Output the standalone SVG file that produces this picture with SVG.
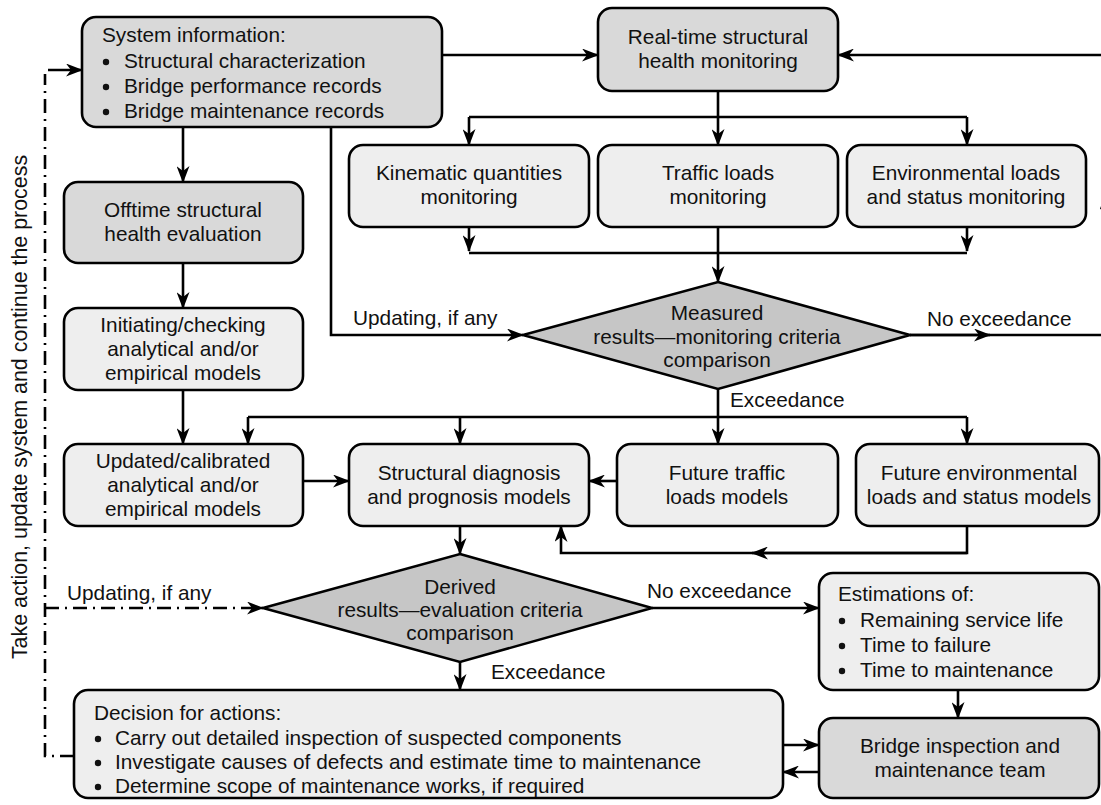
<svg xmlns="http://www.w3.org/2000/svg" width="1101" height="805" viewBox="0 0 1101 805">
  <style>
    .box { stroke: #000; stroke-width: 2.6; }
    .dark { fill: #d9d9d9; }
    .light { fill: #eeeeee; }
    .dia { fill: #c6c6c6; stroke: #000; stroke-width: 2.6; stroke-linejoin: miter; }
    text { font-family: "Liberation Sans", Arial, sans-serif; font-size: 20.8px; fill: #111; }
    .c { text-anchor: middle; }
    .ln { fill: none; stroke: #000; stroke-width: 2.6; }
    .arr { marker-end: url(#ah); }
    .dd { fill: none; stroke: #000; stroke-width: 2.6; stroke-dasharray: 14 6 2 6; }
    .bul { fill: #111; }
  </style>
  <defs>
    <marker id="ah" viewBox="0 0 17 13" refX="16" refY="6.5" markerWidth="17" markerHeight="13" orient="auto" markerUnits="userSpaceOnUse">
      <path d="M0,0 L17,6.5 L0,13 L5,6.5 z" fill="#000"/>
    </marker>
  </defs>
  <rect width="1101" height="805" fill="#fff"/>

  <!-- connectors -->
  <g id="connectors">
    <line class="ln arr" x1="442" y1="55" x2="598" y2="55"/>
    <path class="ln arr" d="M910,335 H1106 V55 H838"/>
    <line class="ln arr" x1="910" y1="335" x2="990" y2="335"/>
    <line class="ln arr" x1="1106" y1="260" x2="1106" y2="194"/>

    <line class="ln arr" x1="718" y1="91" x2="718" y2="145"/>
    <line class="ln" x1="469" y1="117" x2="967" y2="117"/>
    <line class="ln arr" x1="469" y1="117" x2="469" y2="145"/>
    <line class="ln arr" x1="967" y1="117" x2="967" y2="145"/>

    <line class="ln arr" x1="469" y1="227" x2="469" y2="251"/>
    <line class="ln arr" x1="967" y1="227" x2="967" y2="251"/>
    <line class="ln" x1="469" y1="253" x2="967" y2="253"/>
    <line class="ln arr" x1="718" y1="227" x2="718" y2="282"/>

    <path class="ln arr" d="M331,127 V335 H523"/>

    <line class="ln arr" x1="718" y1="389" x2="718" y2="444"/>
    <line class="ln" x1="248" y1="417" x2="967" y2="417"/>
    <line class="ln arr" x1="248" y1="417" x2="248" y2="444"/>
    <line class="ln arr" x1="460" y1="417" x2="460" y2="444"/>
    <line class="ln arr" x1="967" y1="417" x2="967" y2="444"/>

    <line class="ln arr" x1="183" y1="127" x2="183" y2="182"/>
    <line class="ln arr" x1="183" y1="263" x2="183" y2="308"/>
    <line class="ln arr" x1="183" y1="390" x2="183" y2="444"/>

    <line class="ln arr" x1="303" y1="481" x2="349" y2="481"/>
    <line class="ln arr" x1="617" y1="481" x2="589" y2="481"/>

    <path class="ln arr" d="M967,526 V553 H561 V526"/>
    <line class="ln arr" x1="967" y1="553" x2="752" y2="553"/>

    <line class="ln arr" x1="460" y1="526" x2="460" y2="554"/>
    <line class="ln arr" x1="652" y1="608" x2="819" y2="608"/>
    <line class="ln arr" x1="460" y1="662" x2="460" y2="690"/>
    <line class="ln arr" x1="958" y1="690" x2="958" y2="718"/>
    <line class="ln arr" x1="783" y1="745" x2="819" y2="745"/>
    <line class="ln arr" x1="819" y1="772" x2="783" y2="772"/>

    <!-- feedback loop, dash-dot -->
    <path class="dd" d="M74,756 H45 V74"/>
    <line class="ln arr" x1="48" y1="70" x2="82" y2="70"/>
    <line class="dd arr" x1="45" y1="608" x2="263" y2="608"/>

    <!-- connector labels -->
    <text x="353" y="325">Updating, if any</text>
    <text x="927" y="326">No exceedance</text>
    <text x="730" y="407">Exceedance</text>
    <text x="67" y="600">Updating, if any</text>
    <text x="647" y="598">No exceedance</text>
    <text x="491" y="679">Exceedance</text>
    <text class="c" style="font-size:21.4px" transform="translate(27,407) rotate(-90)">Take action, update system and continue the process</text>
  </g>

  <g id="system-information">
    <rect class="box dark" x="82" y="17" width="360" height="110" rx="14"/>
    <text x="102" y="42">System information:</text>
    <circle class="bul" cx="106" cy="62" r="3.2"/>
    <text x="124" y="68">Structural characterization</text>
    <circle class="bul" cx="106" cy="87" r="3.2"/>
    <text x="124" y="93">Bridge performance records</text>
    <circle class="bul" cx="106" cy="112" r="3.2"/>
    <text x="124" y="118">Bridge maintenance records</text>
  </g>

  <g id="realtime-shm">
    <rect class="box dark" x="598" y="8" width="240" height="83" rx="14"/>
    <text class="c" x="718" y="44">Real-time structural</text>
    <text class="c" x="718" y="68">health monitoring</text>
  </g>

  <g id="kinematic">
    <rect class="box light" x="349" y="145" width="240" height="82" rx="14"/>
    <text class="c" x="469" y="180">Kinematic quantities</text>
    <text class="c" x="469" y="204">monitoring</text>
  </g>

  <g id="traffic-monitoring">
    <rect class="box light" x="598" y="145" width="240" height="82" rx="14"/>
    <text class="c" x="718" y="180">Traffic loads</text>
    <text class="c" x="718" y="204">monitoring</text>
  </g>

  <g id="environmental-monitoring">
    <rect class="box light" x="847" y="145" width="239" height="82" rx="14"/>
    <text class="c" x="966" y="180">Environmental loads</text>
    <text class="c" x="966" y="204">and status monitoring</text>
  </g>

  <g id="offtime-evaluation">
    <rect class="box dark" x="64" y="182" width="239" height="81" rx="14"/>
    <text class="c" x="183" y="217">Offtime structural</text>
    <text class="c" x="183" y="241">health evaluation</text>
  </g>

  <g id="initiating-models">
    <rect class="box light" x="64" y="308" width="239" height="82" rx="14"/>
    <text class="c" x="183" y="332">Initiating/checking</text>
    <text class="c" x="183" y="356">analytical and/or</text>
    <text class="c" x="183" y="380">empirical models</text>
  </g>

  <g id="measured-comparison">
    <polygon class="dia" points="718,282 910,335 718,389 523,335"/>
    <text class="c" x="717" y="320">Measured</text>
    <text class="c" x="717" y="344">results—monitoring criteria</text>
    <text class="c" x="717" y="367">comparison</text>
  </g>

  <g id="updated-models">
    <rect class="box light" x="64" y="444" width="239" height="82" rx="14"/>
    <text class="c" x="183" y="468">Updated/calibrated</text>
    <text class="c" x="183" y="492">analytical and/or</text>
    <text class="c" x="183" y="516">empirical models</text>
  </g>

  <g id="diagnosis-prognosis">
    <rect class="box light" x="349" y="444" width="240" height="82" rx="14"/>
    <text class="c" x="469" y="480">Structural diagnosis</text>
    <text class="c" x="469" y="504">and prognosis models</text>
  </g>

  <g id="future-traffic">
    <rect class="box light" x="617" y="444" width="221" height="82" rx="14"/>
    <text class="c" x="727" y="480">Future traffic</text>
    <text class="c" x="727" y="504">loads models</text>
  </g>

  <g id="future-environmental">
    <rect class="box light" x="856" y="444" width="243" height="82" rx="14"/>
    <text class="c" x="979" y="480">Future environmental</text>
    <text class="c" x="979" y="504">loads and status models</text>
  </g>

  <g id="derived-comparison">
    <polygon class="dia" points="460,554 652,608 460,662 263,608"/>
    <text class="c" x="460" y="594">Derived</text>
    <text class="c" x="460" y="617">results—evaluation criteria</text>
    <text class="c" x="460" y="640">comparison</text>
  </g>

  <g id="estimations">
    <rect class="box light" x="819" y="573" width="280" height="117" rx="14"/>
    <text x="838" y="601">Estimations of:</text>
    <circle class="bul" cx="842" cy="621" r="3.2"/>
    <text x="860" y="627">Remaining service life</text>
    <circle class="bul" cx="842" cy="646" r="3.2"/>
    <text x="860" y="652">Time to failure</text>
    <circle class="bul" cx="842" cy="671" r="3.2"/>
    <text x="860" y="677">Time to maintenance</text>
  </g>

  <g id="decision">
    <rect class="box light" x="74" y="690" width="709" height="108" rx="14"/>
    <text x="94" y="720">Decision for actions:</text>
    <circle class="bul" cx="98" cy="739" r="3.2"/>
    <text x="115" y="745">Carry out detailed inspection of suspected components</text>
    <circle class="bul" cx="98" cy="763" r="3.2"/>
    <text x="115" y="769">Investigate causes of defects and estimate time to maintenance</text>
    <circle class="bul" cx="98" cy="787" r="3.2"/>
    <text x="115" y="793">Determine scope of maintenance works, if required</text>
  </g>

  <g id="inspection-team">
    <rect class="box dark" x="819" y="718" width="280" height="80" rx="14"/>
    <text class="c" x="960" y="753">Bridge inspection and</text>
    <text class="c" x="960" y="777">maintenance team</text>
  </g>
</svg>
